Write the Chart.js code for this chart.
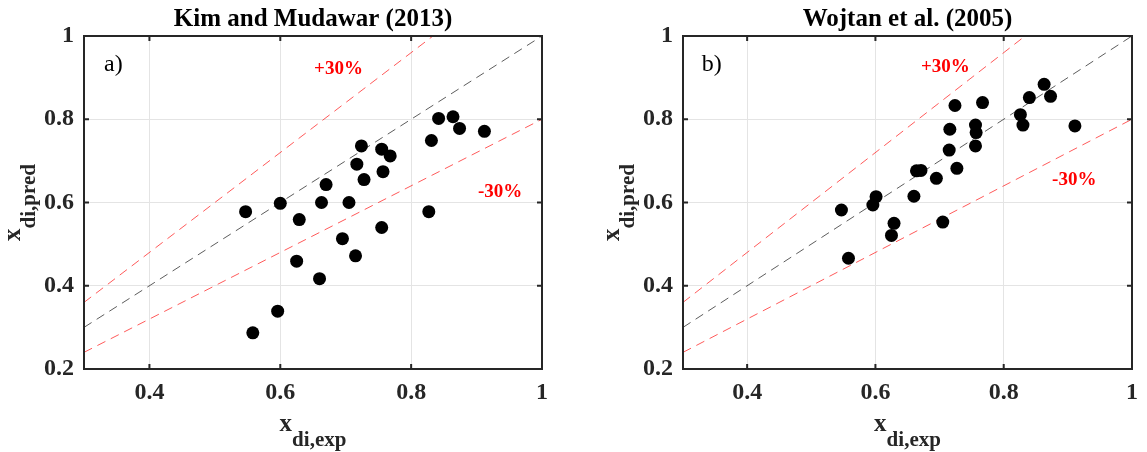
<!DOCTYPE html>
<html>
<head>
<meta charset="utf-8">
<title>x_di comparison</title>
<script src="https://cdn.jsdelivr.net/npm/chart.js@4"></script>
<style>
  body { margin: 0; background: #fff; }
  .panel { position: absolute; top: 0; }
</style>
</head>
<body>
<div class="panel" style="left:0px"><canvas id="chartA" width="570" height="452"></canvas></div>
<div class="panel" style="left:570px"><canvas id="chartB" width="577" height="452"></canvas></div>
<script>
// data
const xExpA  = [0.547, 0.558, 0.596, 0.600, 0.625, 0.629, 0.660, 0.663, 0.670, 0.695, 0.705, 0.715, 0.717, 0.724, 0.728, 0.755, 0.755, 0.757, 0.768, 0.827, 0.831, 0.842, 0.864, 0.874, 0.912];
const xPredA = [0.578, 0.287, 0.339, 0.598, 0.459, 0.559, 0.417, 0.600, 0.643, 0.513, 0.600, 0.472, 0.692, 0.736, 0.655, 0.728, 0.540, 0.674, 0.712, 0.578, 0.749, 0.802, 0.806, 0.778, 0.771];

const xExpB  = [0.547, 0.558, 0.596, 0.601, 0.625, 0.629, 0.660, 0.664, 0.671, 0.695, 0.705, 0.715, 0.716, 0.724, 0.727, 0.756, 0.756, 0.757, 0.767, 0.826, 0.830, 0.840, 0.863, 0.873, 0.911];
const xPredB = [0.582, 0.466, 0.594, 0.614, 0.521, 0.550, 0.615, 0.676, 0.677, 0.658, 0.553, 0.726, 0.776, 0.833, 0.682, 0.736, 0.786, 0.768, 0.840, 0.811, 0.786, 0.852, 0.884, 0.855, 0.784];

const xTicks = [0.4, 0.6, 0.8, 1];
const yTicks = [0.2, 0.4, 0.6, 0.8, 1];
const xRange = [0.3, 1];
const yRange = [0.2, 1];

// reference lines y = k*x
const perfectK = 1;
const upperK = 1.2;
const lowerK = 0.8;

const serif = '"Liberation Serif", "Times New Roman", serif';
const ink = '#262626';

function lineData(k) {
  return xRange.map(x => ({ x: x, y: k * x }));
}

// titles, labels, box, inward ticks
const panelText = {
  id: 'panelText',
  afterDraw(chart, args, o) {
    const c = chart.ctx;
    const a = chart.chartArea;
    const sx = chart.scales.x, sy = chart.scales.y;
    const cx = (a.left + a.right) / 2;
    const cy = (a.top + a.bottom) / 2;
    c.save();

    // title
    c.fillStyle = '#000';
    c.font = 'bold 25px ' + serif;
    c.textAlign = 'center';
    c.textBaseline = 'alphabetic';
    c.fillText(o.title, cx, 26);

    // panel tag
    c.font = '24px ' + serif;
    c.textBaseline = 'middle';
    c.fillText(o.tag, sx.getPixelForValue(o.tagAt[0]), sy.getPixelForValue(o.tagAt[1]));

    // +30% / -30%
    c.fillStyle = '#ff0000';
    c.font = 'bold 19px ' + serif;
    c.fillText('+30%', sx.getPixelForValue(o.upAt[0]), sy.getPixelForValue(o.upAt[1]));
    c.fillText('-30%', sx.getPixelForValue(o.lowAt[0]), sy.getPixelForValue(o.lowAt[1]));

    // axis titles with subscripts
    c.fillStyle = ink;
    c.textAlign = 'left';
    c.textBaseline = 'alphabetic';
    const big = 'bold 25px ' + serif, small = 'bold 21px ' + serif;
    c.font = big; const wx = c.measureText('x').width;
    c.font = small; const ws1 = c.measureText('di,exp').width;
    let x0 = cx - (wx + ws1) / 2;
    c.font = big; c.fillText('x', x0, a.bottom + 62);
    c.font = small; c.fillText('di,exp', x0 + wx, a.bottom + 77);

    c.font = small; const ws2 = c.measureText('di,pred').width;
    c.translate(a.left - 64, cy);
    c.rotate(-Math.PI / 2);
    x0 = -(wx + ws2) / 2;
    c.font = big; c.fillText('x', x0, 0);
    c.font = small; c.fillText('di,pred', x0 + wx, 15);
    c.setTransform(1, 0, 0, 1, 0, 0);

    // box and inward ticks
    c.strokeStyle = ink;
    c.lineWidth = 2;
    c.strokeRect(a.left, a.top, a.right - a.left, a.bottom - a.top);
    c.beginPath();
    xTicks.forEach(v => {
      const p = sx.getPixelForValue(v);
      if (p > a.right - 2) return;
      c.moveTo(p, a.bottom); c.lineTo(p, a.bottom - 5);
      c.moveTo(p, a.top); c.lineTo(p, a.top + 5);
    });
    yTicks.forEach(v => {
      const p = sy.getPixelForValue(v);
      if (p < a.top + 2 || p > a.bottom - 2) return;
      c.moveTo(a.left, p); c.lineTo(a.left + 5, p);
      c.moveTo(a.right, p); c.lineTo(a.right - 5, p);
    });
    c.stroke();
    c.restore();
  }
};

function makeChart(id, xs, ys, text, leftW, rightPad) {
  const pts = xs.map((x, i) => ({ x: x, y: ys[i] }));
  return new Chart(document.getElementById(id), {
    type: 'scatter',
    data: {
      datasets: [
        {
          data: pts,
          backgroundColor: '#000',
          borderWidth: 0,
          pointRadius: 6.5,
          order: 0
        },
        {
          type: 'line',
          data: lineData(perfectK),
          borderColor: '#333',
          borderWidth: 0.8,
          borderDash: [9, 6],
          pointRadius: 0,
          order: 1
        },
        {
          type: 'line',
          data: lineData(upperK),
          borderColor: '#ff3030',
          borderWidth: 0.8,
          borderDash: [9, 6],
          pointRadius: 0,
          order: 1
        },
        {
          type: 'line',
          data: lineData(lowerK),
          borderColor: '#ff3030',
          borderWidth: 0.8,
          borderDash: [9, 6],
          pointRadius: 0,
          order: 1
        }
      ]
    },
    options: {
      responsive: false,
      animation: false,
      layout: { padding: { left: 0, right: rightPad, top: 36, bottom: 0 } },
      plugins: {
        legend: { display: false },
        tooltip: { enabled: false },
        panelText: text
      },
      scales: {
        x: {
          type: 'linear',
          min: xRange[0],
          max: xRange[1],
          afterBuildTicks: s => { s.ticks = xTicks.map(v => ({ value: v })); },
          afterFit: s => { s.height = 83; },
          grid: { color: '#e4e4e4', lineWidth: 1, drawTicks: false },
          border: { display: false },
          ticks: {
            padding: 9,
            color: ink,
            font: { family: serif, size: 24, weight: 'bold' },
            callback: v => String(v)
          }
        },
        y: {
          type: 'linear',
          min: yRange[0],
          max: yRange[1],
          afterBuildTicks: s => { s.ticks = yTicks.map(v => ({ value: v })); },
          afterFit: s => { s.width = leftW; },
          grid: { color: '#e4e4e4', lineWidth: 1, drawTicks: false },
          border: { display: false },
          ticks: {
            padding: 10,
            color: ink,
            font: { family: serif, size: 24, weight: 'bold' },
            callback: v => String(v)
          }
        }
      }
    },
    plugins: [panelText]
  });
}

makeChart('chartA', xExpA, xPredA, {
  title: 'Kim and Mudawar (2013)',
  tag: 'a)', tagAt: [0.345, 0.93],
  upAt: [0.689, 0.92], lowAt: [0.936, 0.626]
}, 84, 28);

makeChart('chartB', xExpB, xPredB, {
  title: 'Wojtan et al. (2005)',
  tag: 'b)', tagAt: [0.345, 0.93],
  upAt: [0.709, 0.926], lowAt: [0.910, 0.654]
}, 113, 4);
</script>
</body>
</html>
